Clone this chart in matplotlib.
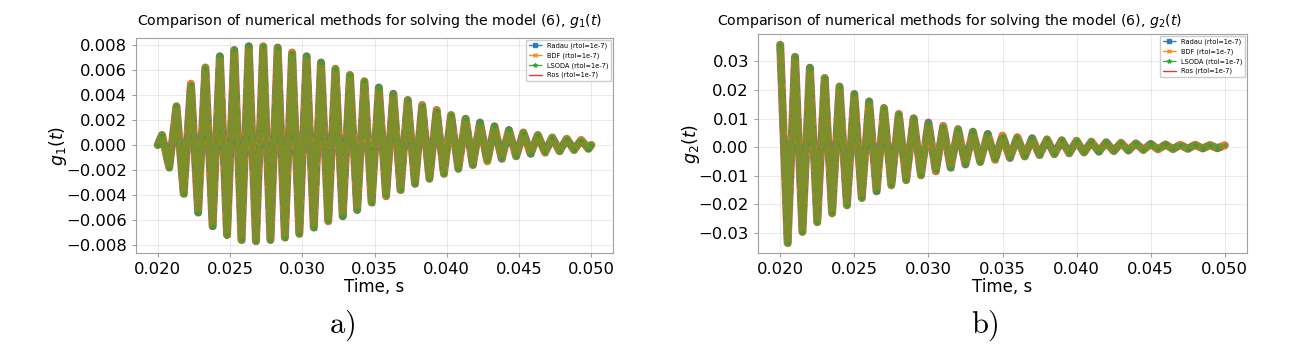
import matplotlib
matplotlib.use("Agg")
import matplotlib.pyplot as plt

# ---- data (extrema of the oscillation, s / value) ----
time_g1 = [0.0200, 0.0203, 0.0208, 0.0213, 0.0218, 0.0223, 0.0228, 0.0233, 0.0238, 0.0243,
           0.0248, 0.0253, 0.0258, 0.0263, 0.0268, 0.0273, 0.0278, 0.0283, 0.0288, 0.0293,
           0.0298, 0.0303, 0.0308, 0.0313, 0.0318, 0.0323, 0.0328, 0.0333, 0.0338, 0.0343,
           0.0348, 0.0353, 0.0358, 0.0363, 0.0368, 0.0373, 0.0378, 0.0383, 0.0388, 0.0393,
           0.0398, 0.0403, 0.0408, 0.0413, 0.0418, 0.0423, 0.0428, 0.0433, 0.0438, 0.0443,
           0.0448, 0.0453, 0.0458, 0.0463, 0.0468, 0.0473, 0.0478, 0.0483, 0.0488, 0.0493,
           0.0498, 0.0500]
g1_values = [0.0, 0.0008, -0.0018, 0.0031, -0.0039, 0.0049, -0.0054, 0.0062, -0.0065, 0.0071,
             -0.0072, 0.0076, -0.0076, 0.0079, -0.0077, 0.0079, -0.0076, 0.0078, -0.0074, 0.0074,
             -0.0071, 0.0071, -0.0066, 0.0066, -0.0061, 0.0061, -0.0057, 0.0056, -0.0052, 0.0051,
             -0.0046, 0.0046, -0.0041, 0.0041, -0.0036, 0.0036, -0.0031, 0.0032, -0.0027, 0.0028,
             -0.0023, 0.0024, -0.0019, 0.0021, -0.0016, 0.0018, -0.0013, 0.0015, -0.0011, 0.0012,
             -0.0009, 0.0010, -0.0007, 0.0008, -0.0006, 0.0006, -0.0005, 0.0005, -0.0004, 0.0004,
             -0.0003, 0.0000]

time_g2 = [0.0200, 0.0205, 0.0210, 0.0215, 0.0220, 0.0225, 0.0230, 0.0235, 0.0240, 0.0245,
           0.0250, 0.0255, 0.0260, 0.0265, 0.0270, 0.0275, 0.0280, 0.0285, 0.0290, 0.0295,
           0.0300, 0.0305, 0.0310, 0.0315, 0.0320, 0.0325, 0.0330, 0.0335, 0.0340, 0.0345,
           0.0350, 0.0355, 0.0360, 0.0365, 0.0370, 0.0375, 0.0380, 0.0385, 0.0390, 0.0395,
           0.0400, 0.0405, 0.0410, 0.0415, 0.0420, 0.0425, 0.0430, 0.0435, 0.0440, 0.0445,
           0.0450, 0.0455, 0.0460, 0.0465, 0.0470, 0.0475, 0.0480, 0.0485, 0.0490, 0.0495,
           0.0500]
g2_values = [0.0358, -0.0336, 0.0316, -0.0297, 0.0278, -0.0263, 0.0242, -0.0232, 0.0212, -0.0204,
             0.0186, -0.0178, 0.0160, -0.0155, 0.0137, -0.0134, 0.0116, -0.0116, 0.0101, -0.0099,
             0.0086, -0.0085, 0.0074, -0.0072, 0.0063, -0.0061, 0.0054, -0.0052, 0.0046, -0.0044,
             0.0040, -0.0038, 0.0035, -0.0033, 0.0031, -0.0028, 0.0027, -0.0025, 0.0024, -0.0022,
             0.0022, -0.0019, 0.0019, -0.0016, 0.0017, -0.0014, 0.0015, -0.0012, 0.0013, -0.0010,
             0.0011, -0.0008, 0.0009, -0.0007, 0.0008, -0.0006, 0.0008, -0.0005, 0.0007, -0.0004,
             0.0006]

methods = ["Radau (rtol=1e-7)", "BDF (rtol=1e-7)", "LSODA (rtol=1e-7)", "Ros (rtol=1e-7)"]
titles = ["Comparison of numerical methods for solving the model (6), $g_1(t)$",
          "Comparison of numerical methods for solving the model (6), $g_2(t)$"]
ylabels = ["$g_1(t)$", "$g_2(t)$"]
xlabel = "Time, s"
panel_tags = ["a)", "b)"]

# ---- styles ----
common = dict(solid_joinstyle="round", dash_joinstyle="round",
              solid_capstyle="round", dash_capstyle="round")
styles = [
    dict(color="#1f77b4", ls=(0, (1.2, 1.0)), marker="s", ms=3, lw=5.0, alpha=0.6, zorder=2.1),
    dict(color="#ff7f0e", ls=(1.1, (1.4, 0.8)), marker="x", ms=3, lw=5.0, alpha=0.8, zorder=2.2),
    dict(color="#2ca02c", ls=(0.5, (2.5, 0.8)), marker="*", ms=3, lw=5.2, alpha=0.55, zorder=2.3),
    dict(color="#d62728", ls="-", lw=5.8, alpha=0.7, zorder=2.0),
]
legend_ls = ["--", "--", "--", "-"]

W, H = 1312, 354
fig = plt.figure(figsize=(W / 100, H / 100), dpi=100)

def px_axes(x0, x1, ytop, ybot):
    return fig.add_axes([x0 / W, 1 - ybot / H, (x1 - x0) / W, (ybot - ytop) / H])

ax1 = px_axes(136, 613, 38, 253)
ax2 = px_axes(758, 1247, 34, 253)

panels = [
    (ax1, time_g1, g1_values, (-0.00864, 0.00856), [-0.008, -0.006, -0.004, -0.002, 0.0, 0.002, 0.004, 0.006, 0.008], -0.140),
    (ax2, time_g2, g2_values, (-0.0371, 0.0396), [-0.03, -0.02, -0.01, 0.0, 0.01, 0.02, 0.03], -0.115),
]

for i, (ax, tt, vv, ylim, yticks, ylab_x) in enumerate(panels):
    for name, st in zip(methods, styles):
        ax.plot(tt, vv, label=name, **st, **common)
    ax.set_xlim(0.0185, 0.0515)
    ax.set_ylim(*ylim)
    ax.set_yticks(yticks)
    ax.set_xticks([0.020, 0.025, 0.030, 0.035, 0.040, 0.045, 0.050])
    ax.grid(True, color="#b0b0b0", alpha=0.3, lw=0.6)
    for sp in ax.spines.values():
        sp.set_color("#a0a0a0")
    ax.tick_params(labelsize=11.8, color="#a0a0a0", length=3)
    ax.set_xlabel(xlabel, fontsize=12, labelpad=1)
    ax.set_ylabel(ylabels[i], fontsize=12.5)
    ax.yaxis.set_label_coords(ylab_x, 0.5)
    leg = ax.legend(loc="upper right", fontsize=4.8, borderaxespad=0.25,
                    framealpha=1.0, edgecolor="#cccccc", handlelength=2.0)
    for ln, lst in zip(leg.get_lines(), legend_ls):
        ln.set_linewidth(1.0)
        ln.set_linestyle(lst)
        ln.set_alpha(0.9)
        ln.set_markersize(3)

fig.text(370 / W, 1 - 25 / H, titles[0], ha="center", va="baseline", fontsize=10.2)
fig.text(950 / W, 1 - 25 / H, titles[1], ha="center", va="baseline", fontsize=10.2)

fig.text(342 / W, 1 - 326 / H, r"$\mathrm{" + panel_tags[0] + "}$", ha="center", va="center",
         fontsize=22, math_fontfamily="cm")
fig.text(985 / W, 1 - 326 / H, r"$\mathrm{" + panel_tags[1] + "}$", ha="center", va="center",
         fontsize=22, math_fontfamily="cm")

fig.savefig("out.png", dpi=100)
